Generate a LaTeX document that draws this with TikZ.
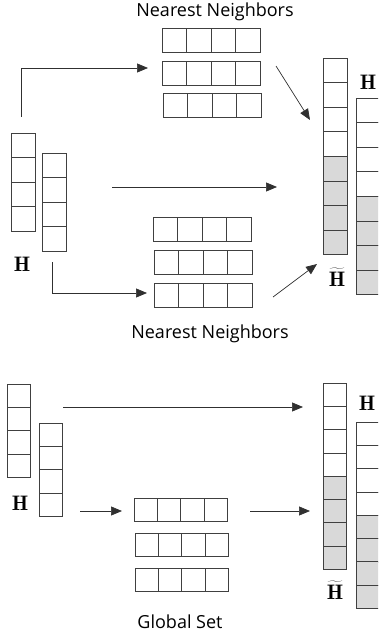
\documentclass[tikz,border=0pt]{standalone}
\usepackage{fontspec}
\setsansfont{Open Sans}
\usetikzlibrary{arrows.meta, positioning}
\definecolor{cellline}{HTML}{404040}
\definecolor{cellfill}{HTML}{D9D9D9}
\definecolor{arrowline}{HTML}{303030}

\begin{document}
\begin{tikzpicture}[x=1pt, y=-1pt,
    cell/.style={draw=cellline, line width=0.8pt, minimum width=24.6pt, minimum height=24.6pt, inner sep=0pt, outer sep=0pt, anchor=north west},
    small/.style={minimum width=23.4pt, minimum height=23.4pt},
    shaded/.style={fill=cellfill},
    arr/.style={draw=arrowline, line width=0.7pt, -{Triangle[length=11pt, width=9pt]}},
    caption/.style={font=\sffamily\fontsize{18}{20}\selectfont, inner sep=0pt},
    mat/.style={font=\fontsize{21}{23}\selectfont, inner sep=0pt}]

    \useasboundingbox (0,0) rectangle (378,636);
    \clip (0,0) rectangle (378,636);

    % nearest neighbors
    \foreach \r/\x/\y in {a1/162/28, a2/162/61, a3/163/93, b1/153/217, b2/154/250, b3/154/283}
        \foreach \i in {1,...,4}
            \node[cell] (\r-\i) at ({\x+24.6*(\i-1)}, \y) {};

    \foreach \c/\x/\y in {l1/11/133, l2/42/153}
        \foreach \i in {1,...,4}
            \node[cell] (\c-\i) at (\x, {\y+24.6*(\i-1)}) {};

    \foreach \c/\x/\y in {r1/323/58, r2/356/98} {
        \foreach \i in {1,...,4}
            \node[cell] (\c-\i) at (\x, {\y+24.6*(\i-1)}) {};
        \foreach \i in {5,...,8}
            \node[cell, shaded] (\c-\i) at (\x, {\y+24.6*(\i-1)}) {};
    }

    \node[caption] (nn1) at (215,12) {Nearest Neighbors};
    \node[caption] (nn2) at (210,334) {Nearest Neighbors};
    \node[mat] (h1) at (22,264) {$\mathbf{H}$};
    \node[mat] (h2) at (368,82) {$\mathbf{H}$};
    \node[mat] (ht1) at (337,280) {$\widetilde{\mathbf{H}\mathstrut}$};

    \coordinate (p1) at (21,117);
    \coordinate (p2) at (148,68);
    \coordinate (p3) at (112,187);
    \coordinate (p4) at (277,187);
    \coordinate (p5) at (52,262);
    \coordinate (p6) at (147,293);
    \coordinate (p7) at (276,66);
    \coordinate (p8) at (310,120);
    \coordinate (p9) at (273,297);
    \coordinate (p10) at (317,264);

    \draw[arr] (p1) |- (p2);
    \draw[arr] (p3) -- (p4);
    \draw[arr] (p5) |- (p6);
    \draw[arr] (p7) -- (p8);
    \draw[arr] (p9) -- (p10);

    % global set
    \foreach \c/\x/\y in {m1/7/384, m2/39/423}
        \foreach \i in {1,...,4}
            \node[cell, small] (\c-\i) at (\x, {\y+23.4*(\i-1)}) {};

    \foreach \r/\x/\y in {g1/134/498, g2/135/533, g3/135/568}
        \foreach \i in {1,...,4}
            \node[cell, small] (\r-\i) at ({\x+23.4*(\i-1)}, \y) {};

    \foreach \c/\x/\y in {s1/323/383, s2/356/422} {
        \foreach \i in {1,...,4}
            \node[cell, small] (\c-\i) at (\x, {\y+23.3*(\i-1)}) {};
        \foreach \i in {5,...,8}
            \node[cell, small, shaded] (\c-\i) at (\x, {\y+23.3*(\i-1)}) {};
    }

    \node[caption] (gs) at (180,622) {Global Set};
    \node[mat] (h3) at (20,503) {$\mathbf{H}$};
    \node[mat] (h4) at (367,403) {$\mathbf{H}$};
    \node[mat] (ht2) at (335,593) {$\widetilde{\mathbf{H}\mathstrut}$};

    \coordinate (q1) at (63,407);
    \coordinate (q2) at (303,407);
    \coordinate (q3) at (80,511);
    \coordinate (q4) at (122,511);
    \coordinate (q5) at (250,511);
    \coordinate (q6) at (310,511);

    \draw[arr] (q1) -- (q2);
    \draw[arr] (q3) -- (q4);
    \draw[arr] (q5) -- (q6);

\end{tikzpicture}
\end{document}
